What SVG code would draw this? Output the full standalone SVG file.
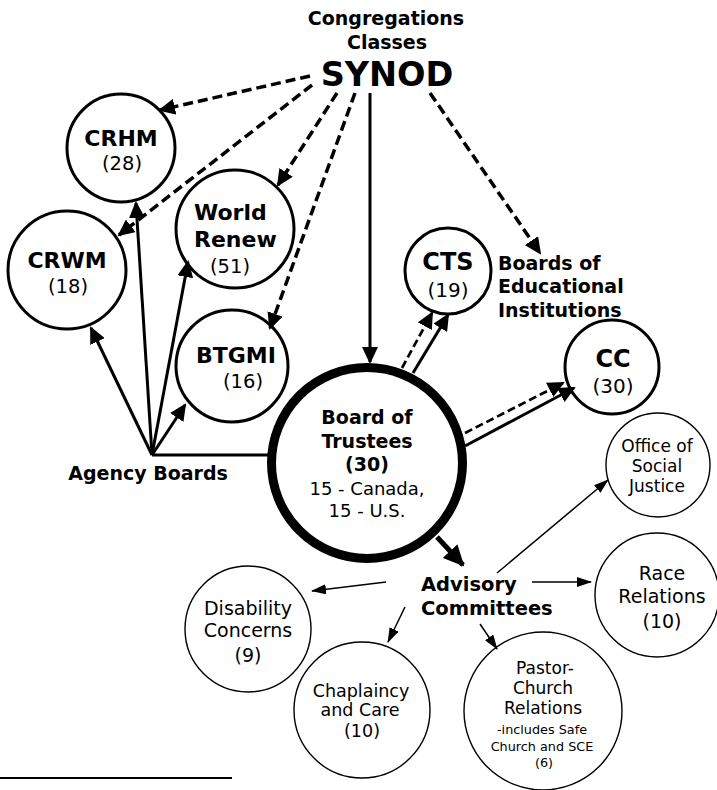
<svg xmlns="http://www.w3.org/2000/svg" width="717" height="790" viewBox="0 0 717 790">
<style>
text{font-family:"DejaVu Sans","Verdana",sans-serif;fill:#000}
.b{font-weight:bold}
.c{text-anchor:middle}
.node{fill:#fff;stroke:#000;stroke-width:3}
.thin{fill:#fff;stroke:#000;stroke-width:1.4}
.ln{stroke:#000;fill:none}
.d1{stroke-width:3.5;stroke-dasharray:10 5;marker-end:url(#m1)}
.s1{stroke-width:3;marker-end:url(#m1)}
.d2{stroke-width:2.7;stroke-dasharray:8 4;marker-end:url(#m1)}
.t3{stroke-width:1.5;marker-end:url(#m3)}
</style>
<defs>
<marker id="m1" markerUnits="userSpaceOnUse" viewBox="0 0 17 16" markerWidth="17" markerHeight="16" refX="15" refY="8" orient="auto"><path d="M0,0 L17,8 L0,16 z" fill="#000"/></marker>
<marker id="m2" markerUnits="userSpaceOnUse" viewBox="0 0 21 20" markerWidth="21" markerHeight="20" refX="19" refY="10" orient="auto"><path d="M0,0 L21,10 L0,20 z" fill="#000"/></marker>
<marker id="m3" markerUnits="userSpaceOnUse" viewBox="0 0 15 10" markerWidth="15" markerHeight="10" refX="14" refY="5" orient="auto"><path d="M0,0 L15,5 L0,10 z" fill="#000"/></marker>
</defs>
<rect width="717" height="790" fill="#fff"/>

<g id="nodes">
<g id="synod">
<text class="b c" x="386" y="25" font-size="19">Congregations</text>
<text class="b c" x="387" y="49" font-size="19">Classes</text>
<text class="b c" x="387" y="86" font-size="33.5">SYNOD</text>
</g>
<g id="crhm">
<circle class="node" cx="121" cy="148" r="54"/>
<text class="b c" x="121" y="146" font-size="22">CRHM</text>
<text class="c" x="122" y="170" font-size="19.5">(28)</text>
</g>
<g id="crwm">
<circle class="node" cx="67" cy="270" r="59"/>
<text class="b c" x="67" y="268" font-size="22">CRWM</text>
<text class="c" x="68" y="293" font-size="19.5">(18)</text>
</g>
<g id="worldrenew">
<circle class="node" cx="235" cy="229" r="59"/>
<text class="b" x="194" y="220" font-size="22">World</text>
<text class="b" x="194" y="247" font-size="22">Renew</text>
<text x="210" y="273" font-size="19.5">(51)</text>
</g>
<g id="btgmi">
<circle class="node" cx="232" cy="366" r="56"/>
<text class="b c" x="236" y="363" font-size="22">BTGMI</text>
<text class="c" x="243" y="388" font-size="19.5">(16)</text>
</g>
<g id="agency">
<text class="b c" x="148" y="480" font-size="19">Agency Boards</text>
</g>
<g id="cts">
<circle class="node" cx="448" cy="271" r="43"/>
<text class="b c" x="448" y="270" font-size="24">CTS</text>
<text class="c" x="448" y="297" font-size="20">(19)</text>
</g>
<g id="edu">
<text class="b" x="498" y="270" font-size="19">Boards of</text>
<text class="b" x="498" y="293" font-size="19">Educational</text>
<text class="b" x="498" y="317" font-size="19">Institutions</text>
</g>
<g id="cc">
<circle class="node" cx="612" cy="367" r="47"/>
<text class="b c" x="613" y="367" font-size="24">CC</text>
<text class="c" x="613" y="393" font-size="20">(30)</text>
</g>
<g id="board">
<circle cx="367" cy="463" r="95.5" fill="#fff" stroke="#000" stroke-width="9"/>
<text class="b c" x="367" y="424" font-size="19">Board of</text>
<text class="b c" x="367" y="448" font-size="19">Trustees</text>
<text class="b c" x="367" y="471" font-size="19">(30)</text>
<text class="c" x="367" y="495" font-size="18">15 - Canada,</text>
<text class="c" x="367" y="517" font-size="18">15 - U.S.</text>
</g>
<g id="office">
<circle class="thin" cx="658" cy="465" r="52"/>
<text class="c" x="657" y="452" font-size="17">Office of</text>
<text class="c" x="657" y="472" font-size="17">Social</text>
<text class="c" x="657" y="492" font-size="17">Justice</text>
</g>
<g id="advisory">
<text class="b" x="421" y="591" font-size="19.5">Advisory</text>
<text class="b" x="421" y="615" font-size="19.5">Committees</text>
</g>
<g id="race">
<circle class="thin" cx="657" cy="595" r="62"/>
<text class="c" x="662" y="580" font-size="19">Race</text>
<text class="c" x="662" y="603" font-size="19">Relations</text>
<text class="c" x="662" y="628" font-size="19">(10)</text>
</g>
<g id="disability">
<circle class="thin" cx="248" cy="629" r="63"/>
<text class="c" x="248" y="615" font-size="19">Disability</text>
<text class="c" x="248" y="637" font-size="19">Concerns</text>
<text class="c" x="248" y="662" font-size="19">(9)</text>
</g>
<g id="chaplaincy">
<circle class="thin" cx="362" cy="710" r="68"/>
<text class="c" x="361" y="697" font-size="17.5">Chaplaincy</text>
<text class="c" x="360" y="716" font-size="17.5">and Care</text>
<text class="c" x="362" y="737" font-size="17.5">(10)</text>
</g>
<g id="pastor">
<circle class="thin" cx="543" cy="711" r="79"/>
<text class="c" x="545" y="674" font-size="17">Pastor-</text>
<text class="c" x="543" y="694" font-size="17">Church</text>
<text class="c" x="543" y="714" font-size="17">Relations</text>
<text class="c" x="542" y="734" font-size="12.8">-includes Safe</text>
<text class="c" x="542" y="751" font-size="12.8">Church and SCE</text>
<text class="c" x="544" y="767" font-size="12.8">(6)</text>
</g>
</g>

<g id="connectors">
<path class="ln d1" d="M310,76 L160,110"/>
<path class="ln d1" d="M312,85 L119,235"/>
<path class="ln d1" d="M337,93 L278,185"/>
<path class="ln d1" d="M355,93 L270,328"/>
<path class="ln d1" d="M430,93 L540,253"/>
<path class="ln s1" d="M370,93 L370,362" stroke-width="3.5"/>
<path class="ln s1" d="M152,455 L91,328"/>
<path class="ln s1" d="M152,455 L136,203"/>
<path class="ln s1" d="M152,455 L188,262"/>
<path class="ln s1" d="M152,455 L185,405"/>
<path class="ln" d="M152,455 L268,455" stroke-width="3"/>
<path class="ln d2" d="M402,368 L432,313"/>
<path class="ln s1" d="M413,373 L448,315"/>
<path class="ln d2" d="M465,433 L563,383"/>
<path class="ln s1" d="M465,446 L574,388"/>
<path class="ln" d="M437,537 L463,565" stroke-width="5" marker-end="url(#m2)"/>
<path class="ln t3" d="M386,582 L312,591"/>
<path class="ln t3" d="M405,607 L388,642"/>
<path class="ln t3" d="M480,624 L497,649"/>
<path class="ln t3" d="M532,582 L591,582"/>
<path class="ln t3" d="M497,573 L608,480"/>
</g>
<path d="M0,778 L232,778" stroke="#000" stroke-width="2"/>
</svg>
